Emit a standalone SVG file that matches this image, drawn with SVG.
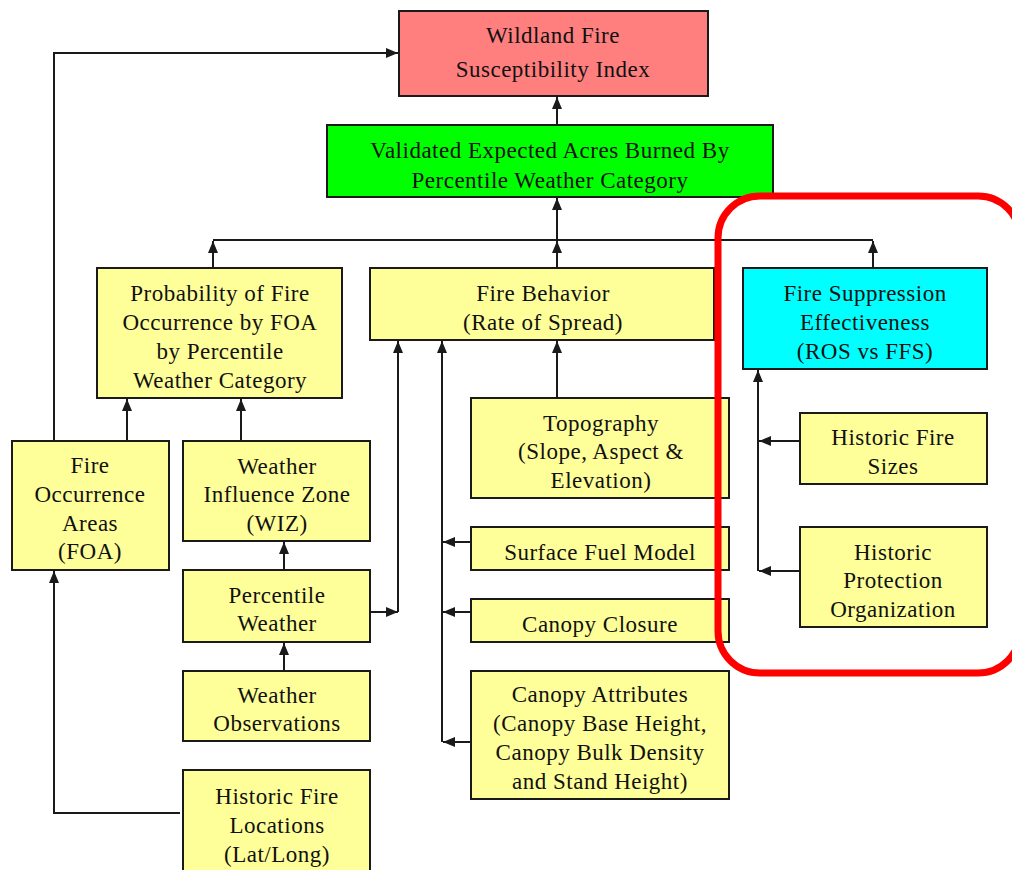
<svg xmlns="http://www.w3.org/2000/svg" width="1012" height="870" viewBox="0 0 1012 870">
  <style>
    .box { stroke: #1a1a1a; stroke-width: 2; }
    .pink { fill: #ff7f7f; }
    .green { fill: #00ff00; }
    .yellow { fill: #ffff99; }
    .cyan { fill: #00ffff; }
    text { font-family: "Liberation Serif", "Times New Roman", serif; font-size: 23px; letter-spacing: 0.5px; fill: #111; text-anchor: middle; }
    .conn path { fill: none; stroke: #1a1a1a; stroke-width: 2; }
    .arr { marker-end: url(#ah); }
  </style>
  <defs>
    <marker id="ah" viewBox="0 0 12 10" refX="12" refY="5" markerWidth="12" markerHeight="10" markerUnits="userSpaceOnUse" orient="auto">
      <path d="M0,0 L12,5 L0,10 z" fill="#1a1a1a"/>
    </marker>
  </defs>
  <rect width="1012" height="870" fill="#ffffff"/>

  <!-- connectors -->
  <g id="connectors" class="conn">
    <path class="arr" d="M54,441 V53 H398"/>
    <path class="arr" d="M557,125 V97"/>
    <path d="M213,240 H873"/>
    <path class="arr" d="M213,268 V241"/>
    <path class="arr" d="M557,268 V241"/>
    <path class="arr" d="M873,268 V241"/>
    <path class="arr" d="M557,240 V198"/>
    <path class="arr" d="M127,441 V399"/>
    <path class="arr" d="M241,441 V399"/>
    <path class="arr" d="M284,570 V542"/>
    <path class="arr" d="M284,671 V643"/>
    <path class="arr" d="M180,813 H54 V571"/>
    <path class="arr" d="M370,612 H398"/>
    <path class="arr" d="M398,612 V341"/>
    <path class="arr" d="M442,742 V341"/>
    <path class="arr" d="M471,542 H443"/>
    <path class="arr" d="M471,612 H443"/>
    <path class="arr" d="M471,742 H443"/>
    <path class="arr" d="M557,398 V341"/>
    <path class="arr" d="M758,571 V370"/>
    <path class="arr" d="M800,441 H759"/>
    <path class="arr" d="M800,571 H759"/>
  </g>

  <g id="wfsi">
    <rect class="box pink" x="399" y="11" width="309" height="85"/>
    <text x="553" y="43">Wildland Fire</text>
    <text x="553" y="77">Susceptibility Index</text>
  </g>
  <g id="expected-acres">
    <rect class="box green" x="327" y="125" width="446" height="72"/>
    <text x="550" y="158">Validated Expected Acres Burned By</text>
    <text x="550" y="188">Percentile Weather Category</text>
  </g>
  <g id="probability">
    <rect class="box yellow" x="97" y="268" width="245" height="130"/>
    <text x="220" y="301">Probability of  Fire</text>
    <text x="220" y="330">Occurrence by FOA</text>
    <text x="220" y="359">by Percentile</text>
    <text x="220" y="388">Weather Category</text>
  </g>
  <g id="fire-behavior">
    <rect class="box yellow" x="370" y="268" width="344" height="72"/>
    <text x="543" y="301">Fire Behavior</text>
    <text x="543" y="330">(Rate of Spread)</text>
  </g>
  <g id="suppression">
    <rect class="box cyan" x="743" y="268" width="244" height="101"/>
    <text x="865" y="301">Fire Suppression</text>
    <text x="865" y="330">Effectiveness</text>
    <text x="865" y="359">(ROS vs FFS)</text>
  </g>
  <g id="foa">
    <rect class="box yellow" x="12" y="441" width="157" height="129"/>
    <text x="90" y="473">Fire</text>
    <text x="90" y="502">Occurrence</text>
    <text x="90" y="531">Areas</text>
    <text x="90" y="559">(FOA)</text>
  </g>
  <g id="wiz">
    <rect class="box yellow" x="183" y="441" width="187" height="100"/>
    <text x="277" y="474">Weather</text>
    <text x="277" y="502">Influence Zone</text>
    <text x="277" y="531">(WIZ)</text>
  </g>
  <g id="percentile-weather">
    <rect class="box yellow" x="183" y="570" width="187" height="72"/>
    <text x="277" y="603">Percentile</text>
    <text x="277" y="631">Weather</text>
  </g>
  <g id="weather-observations">
    <rect class="box yellow" x="183" y="671" width="187" height="70"/>
    <text x="277" y="703">Weather</text>
    <text x="277" y="731">Observations</text>
  </g>
  <g id="historic-fire-locations">
    <rect class="box yellow" x="183" y="770" width="187" height="110"/>
    <text x="277" y="804">Historic Fire</text>
    <text x="277" y="833">Locations</text>
    <text x="277" y="862">(Lat/Long)</text>
  </g>
  <g id="topography">
    <rect class="box yellow" x="471" y="398" width="258" height="100"/>
    <text x="601" y="431">Topography</text>
    <text x="601" y="459">(Slope, Aspect &amp;</text>
    <text x="601" y="488">Elevation)</text>
  </g>
  <g id="surface-fuel">
    <rect class="box yellow" x="471" y="527" width="258" height="43"/>
    <text x="600" y="560">Surface Fuel Model</text>
  </g>
  <g id="canopy-closure">
    <rect class="box yellow" x="471" y="599" width="258" height="43"/>
    <text x="600" y="632">Canopy Closure</text>
  </g>
  <g id="canopy-attributes">
    <rect class="box yellow" x="471" y="671" width="258" height="128"/>
    <text x="600" y="702">Canopy Attributes</text>
    <text x="600" y="731">(Canopy Base Height,</text>
    <text x="600" y="760">Canopy Bulk Density</text>
    <text x="600" y="789">and Stand Height)</text>
  </g>
  <g id="historic-fire-sizes">
    <rect class="box yellow" x="800" y="413" width="187" height="71"/>
    <text x="893" y="445">Historic Fire</text>
    <text x="893" y="474">Sizes</text>
  </g>
  <g id="historic-protection">
    <rect class="box yellow" x="800" y="527" width="187" height="100"/>
    <text x="893" y="560">Historic</text>
    <text x="893" y="588">Protection</text>
    <text x="893" y="617">Organization</text>
  </g>

  <!-- highlight frame around the suppression branch; its right side runs past the page edge -->
  <rect id="highlight" x="718" y="196" width="302" height="477" rx="42" ry="42" fill="none" stroke="#ff0000" stroke-width="7"/>
</svg>
